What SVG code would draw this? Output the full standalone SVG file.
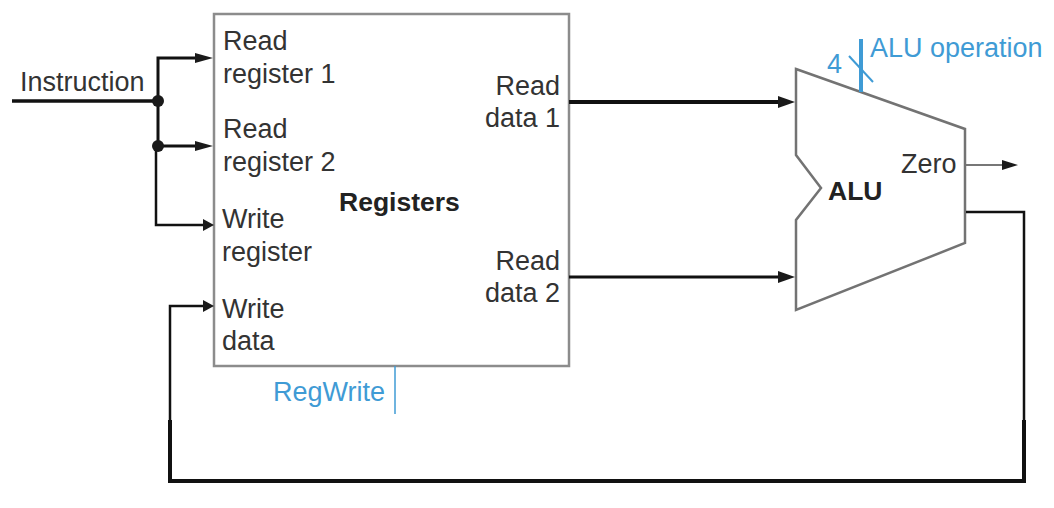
<svg xmlns="http://www.w3.org/2000/svg" width="1054" height="508" viewBox="0 0 1054 508">
<style>
text{font-family:"Liberation Sans",Arial,sans-serif;font-size:27px;fill:#333}
.b{font-weight:bold;fill:#222;font-size:26.5px}
.blue{fill:#3f9bd5}
.box{fill:#fff;stroke:#8c8c8c;stroke-width:2.5}
.w{fill:none;stroke:#111;stroke-linejoin:miter}
.h{fill:#1a1a1a;stroke:none}
</style>
<rect width="1054" height="508" fill="#fff"/>
<g id="registers">
<rect class="box" x="214" y="14" width="355" height="352"/>
<text x="223" y="50">Read</text><text x="223" y="83">register 1</text>
<text x="223" y="138">Read</text><text x="223" y="171">register 2</text>
<text x="222" y="228">Write</text><text x="222" y="261">register</text>
<text x="222" y="318">Write</text><text x="222" y="350">data</text>
<text class="b" x="339" y="211">Registers</text>
<text x="560" y="95" text-anchor="end">Read</text><text x="560" y="127" text-anchor="end">data 1</text>
<text x="560" y="270" text-anchor="end">Read</text><text x="560" y="302" text-anchor="end">data 2</text>
</g>
<g id="alu">
<path d="M796 69L965 129V243L796 310V220L821 188L796 155Z" fill="#fff" stroke="#737373" stroke-width="2.5"/>
<text class="b" x="828" y="200">ALU</text>
<text x="901" y="173">Zero</text>
</g>
<g id="instruction"><text x="20" y="91">Instruction</text></g>
<g id="alu-operation">
<text class="blue" x="870" y="57">ALU operation</text>
<text class="blue" x="827" y="73">4</text>
</g>
<g id="regwrite"><text class="blue" x="273" y="401">RegWrite</text></g>
<g id="connectors">
<path class="w" stroke-width="3.5" d="M12 101H158"/>
<path class="w" stroke-width="3" d="M158 101V58H205"/>
<path class="w" stroke-width="3" d="M158 101V146H205"/>
<path class="w" stroke-width="2.5" d="M156 146V225H205"/>
<circle class="h" cx="158" cy="101" r="6"/><circle class="h" cx="158" cy="146" r="6"/>
<path class="h" d="M213 58L195 53V63Z"/>
<path class="h" d="M213 146L195 141V151Z"/>
<path class="h" d="M214 225L203 219V231Z"/>
<path class="w" stroke-width="4" d="M569 102H785"/>
<path class="h" d="M795 102L778 96V108Z"/>
<path class="w" stroke-width="3" d="M569 277H785"/>
<path class="h" d="M795 277L778 271V283Z"/>
<path fill="none" stroke="#777" stroke-width="2" d="M966 165H1005"/>
<path class="h" d="M1018 165L1002 160V170Z"/>
<path class="w" stroke-width="2.5" d="M966 212H1024V420"/>
<path class="w" stroke-width="4" d="M1024 420V481H170V420"/>
<path class="w" stroke-width="2.5" d="M170 420V306H205"/>
<path class="h" d="M214 306L203 300V312Z"/>
<path fill="none" stroke="#3f9bd5" stroke-width="4" d="M861 39V92"/>
<path fill="none" stroke="#3f9bd5" stroke-width="2" d="M849 56L873 82"/>
<path fill="none" stroke="#3f9bd5" stroke-width="1.5" d="M395 366V414"/>
</g>
</svg>
